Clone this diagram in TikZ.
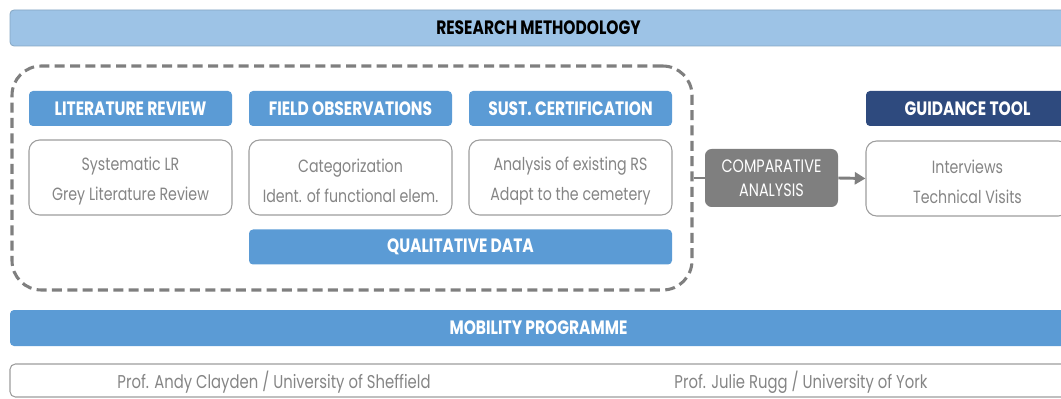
\documentclass[tikz,border=0pt]{standalone}
\usepackage{fontspec}
\setmainfont{Poppins}
\newfontfamily\bodyfont[FakeStretch=0.8]{Poppins}
\newfontfamily\headfont[FakeStretch=0.8]{Poppins}
\usepackage{tikz}
\usetikzlibrary{positioning,arrows.meta,calc}
\definecolor{barblue}{HTML}{9DC3E6}
\definecolor{midblue}{HTML}{5B9BD5}
\definecolor{darkblue}{HTML}{2E4A7E}
\definecolor{midgrey}{HTML}{7F7F7F}
\definecolor{textgrey}{HTML}{858585}
\newcommand{\downstrut}{\rule{0pt}{15pt}}
\begin{document}
\begin{tikzpicture}[x=0.75pt,y=-0.75pt,
  headbox/.style={fill=midblue,rounded corners=3pt,text=white,inner sep=0pt,
    font=\headfont\bfseries\fontsize{14.5}{16}\selectfont,
    minimum width=152.25pt,minimum height=26.25pt},
  textbox/.style={draw=textgrey!80,line width=0.8pt,rounded corners=8pt,fill=white,
    text=textgrey,align=center,inner sep=0pt,
    font=\bodyfont\fontsize{13.3}{22.5}\selectfont,
    minimum width=152.25pt,minimum height=56.25pt},
  barbox/.style={rounded corners=3pt,inner sep=0pt,
    minimum width=792.75pt,minimum height=27pt},
  bartext/.style={font=\headfont\bfseries\fontsize{14.5}{16}\selectfont},
  greytext/.style={text=textgrey,font=\bodyfont\fontsize{13.9}{15}\selectfont}]
\useasboundingbox (0,0) rectangle (1061,399);
\clip (0,0) rectangle (1061,399);
% top bar
\node[barbox,bartext,fill=barblue,draw=barblue!85!black,line width=0.6pt] (method) at (538.5,28) {RESEARCH METHODOLOGY};
% dashed group
\node[draw=midgrey,line width=2.3pt,dash pattern=on 7.5pt off 4pt,rounded corners=22pt,
  minimum width=510pt,minimum height=168pt] (group) at (352,178) {};
% headings
\node[headbox] (litrev) at (130.5,108.5) {LITERATURE REVIEW};
\node[headbox] (fieldobs) at (350.5,108.5) {FIELD OBSERVATIONS};
\node[headbox] (sustcert) at (570.5,108.5) {SUST. CERTIFICATION};
\node[headbox,fill=darkblue] (guide) at (967.5,108.5) {GUIDANCE TOOL};
% contents
\node[textbox] (litrevtxt) at (130.5,177.5) {\downstrut Systematic LR\\Grey Literature Review};
\node[textbox] (fieldobstxt) at (350.5,177.5) {\downstrut Categorization\\Ident. of functional elem.};
\node[textbox] (sustcerttxt) at (570.5,177.5) {\downstrut Analysis of existing RS\\Adapt to the cemetery};
\node[textbox] (guidetxt) at (967.5,178.5) {\downstrut Interviews\\Technical Visits};
\node[headbox,minimum width=317.25pt] (qualdata) at (460.5,247) {QUALITATIVE DATA};
% comparative analysis
\node[fill=midgrey,rounded corners=5pt,text=white,align=center,inner sep=0pt,
  minimum width=99.75pt,minimum height=43.5pt,
  font=\bodyfont\fontsize{13.5}{18}\selectfont] (comp) at (771.5,178) {COMPARATIVE\\ANALYSIS};
\draw[midgrey,line width=2.2pt] (group.east) -- (comp.west);
\draw[midgrey,line width=2.2pt,-{Triangle[length=8pt,width=9pt]}] (comp.east) -- (guidetxt.west);
% mobility programme
\node[barbox,bartext,fill=midblue,text=white] (mobility) at (538.5,328) {MOBILITY PROGRAMME};
\node[barbox,draw=textgrey!80,line width=0.8pt,minimum height=24.75pt,rounded corners=4pt] (profs) at (538.5,380.5) {};
\node[greytext] (clayden) at (274,382) {Prof. Andy Clayden / University of Sheffield};
\node[greytext] (rugg) at (801,382) {Prof. Julie Rugg / University of York};
\end{tikzpicture}
\end{document}
